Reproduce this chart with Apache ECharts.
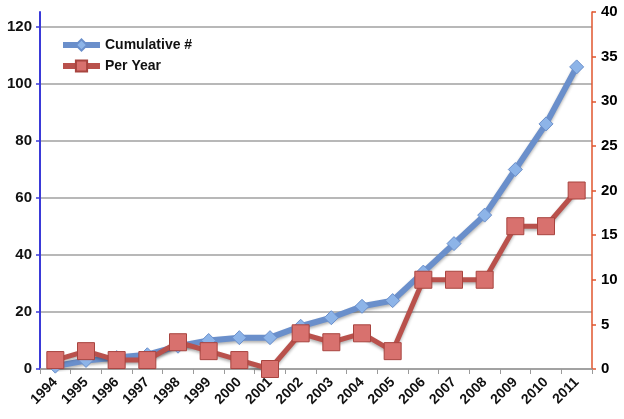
<!DOCTYPE html>
<html>
<head>
<meta charset="utf-8">
<script src="https://cdn.jsdelivr.net/npm/echarts@6/dist/echarts.min.js"></script>
<style>
html,body{margin:0;padding:0;background:#fff;}
#chart{width:624px;height:419px;}
</style>
</head>
<body>
<div id="chart"></div>
<script>
const years = ['1994','1995','1996','1997','1998','1999','2000','2001','2002','2003','2004','2005','2006','2007','2008','2009','2010','2011'];
const cumulative = [1, 3, 4, 5, 8, 10, 11, 11, 15, 18, 22, 24, 34, 44, 54, 70, 86, 106];
const perYear = [1, 2, 1, 1, 3, 2, 1, 0, 4, 3, 4, 2, 10, 10, 10, 16, 16, 20];
const leftTicks = [0, 20, 40, 60, 80, 100, 120];
const rightTicks = [0, 5, 10, 15, 20, 25, 30, 35, 40];

const font = '"Liberation Sans", Arial, sans-serif';
const chart = echarts.init(document.getElementById('chart'), null, {renderer: 'canvas'});
const shadow = {shadowColor: 'rgba(0,0,0,0.3)', shadowBlur: 3, shadowOffsetY: 2};

chart.setOption({
  animation: false,
  backgroundColor: '#fff',
  textStyle: {fontFamily: font, color: '#111'},
  legend: {
    orient: 'vertical',
    left: 55,
    top: 33,
    itemWidth: 37,
    itemHeight: 14,
    itemGap: 7,
    textStyle: {fontFamily: font, fontWeight: 'bold', fontSize: 14, color: '#111'},
    data: [
      {name: 'Cumulative #', lineStyle: {width: 6}},
      {name: 'Per Year', lineStyle: {width: 6}}
    ]
  },
  grid: [
    {left: 40, right: 32, top: 27, bottom: 50},
    {left: 40, right: 32, top: 12, bottom: 50}
  ],
  xAxis: [
    {
      type: 'category', gridIndex: 0, data: years, boundaryGap: true,
      axisLine: {lineStyle: {color: '#9a9a9a', width: 1.5}},
      axisTick: {show: true, length: 5, lineStyle: {color: '#9a9a9a'}},
      axisLabel: {rotate: 45, fontSize: 14, fontWeight: 'bold', color: '#111', fontFamily: font, margin: 11, interval: 0},
      splitLine: {show: false}
    },
    {
      type: 'category', gridIndex: 1, data: years, boundaryGap: true, show: false
    }
  ],
  yAxis: [
    {
      type: 'value', gridIndex: 0, position: 'left', min: leftTicks[0], max: leftTicks[leftTicks.length - 1], interval: 20,
      axisLine: {show: false},
      axisTick: {show: true, length: 4, lineStyle: {color: '#3a3ad8', width: 1.5}},
      axisLabel: {fontSize: 15, fontWeight: 'bold', color: '#111', fontFamily: font, margin: 8},
      splitLine: {show: true, lineStyle: {color: '#a0a0a0', width: 1.5}}
    },
    {
      type: 'value', gridIndex: 1, position: 'left', min: 0, max: 40,
      axisLine: {show: true, lineStyle: {color: '#3a3ad8', width: 2}},
      axisTick: {show: false}, axisLabel: {show: false}, splitLine: {show: false}
    },
    {
      type: 'value', gridIndex: 1, position: 'right', min: rightTicks[0], max: rightTicks[rightTicks.length - 1], interval: 5,
      axisLine: {show: true, lineStyle: {color: '#e0562e', width: 1.5}},
      axisTick: {show: true, length: 4, lineStyle: {color: '#e0562e', width: 1.5}},
      axisLabel: {show: true, fontSize: 15, fontWeight: 'bold', color: '#000000', fontFamily: font, margin: 9, formatter: function (v) { return String(v); }},
      splitLine: {show: false}
    }
  ],
  series: [
    {
      name: 'Cumulative #', type: 'line', xAxisIndex: 0, yAxisIndex: 0, data: cumulative,
      symbol: 'diamond', symbolSize: 14,
      lineStyle: Object.assign({color: '#6a8fcb', width: 6}, shadow),
      itemStyle: {color: '#8db4e8', borderColor: '#6a8fcb', borderWidth: 1},
      z: 2
    },
    {
      name: 'Per Year', type: 'line', xAxisIndex: 1, yAxisIndex: 2, data: perYear,
      symbol: 'rect', symbolSize: 17,
      lineStyle: Object.assign({color: '#b9514c', width: 5}, shadow),
      itemStyle: {color: '#d8716e', borderColor: '#a8443f', borderWidth: 1},
      z: 3
    }
  ]
});
</script>
</body>
</html>
